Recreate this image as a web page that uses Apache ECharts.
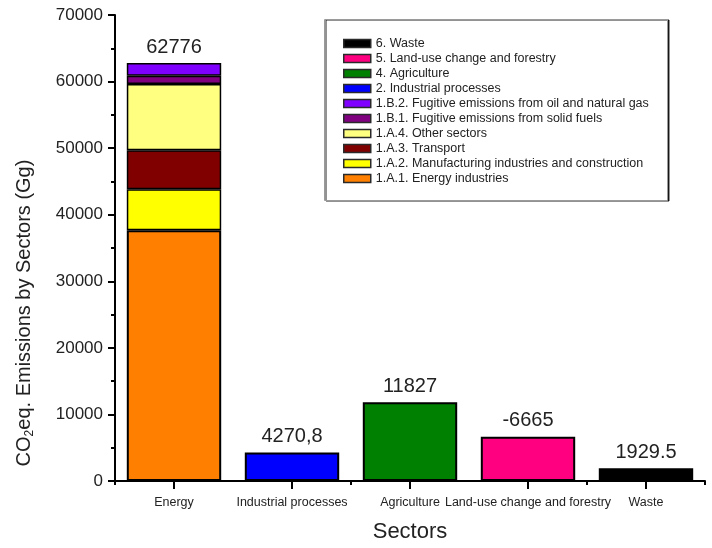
<!DOCTYPE html>
<html>
<head>
<meta charset="utf-8">
<script src="https://cdn.jsdelivr.net/npm/echarts@6/dist/echarts.min.js"></script>
<style>
  html, body { margin: 0; padding: 0; background: #fff; }
  #chart { width: 712px; height: 548px; }
</style>
</head>
<body>
<div id="chart"></div>
<script>
// Sector categories on the x axis
const sectors = ['Energy', 'Industrial processes', 'Agriculture', 'Land-use change and forestry', 'Waste'];

// Energy sector broken down by sub-category (Gg CO2 eq.), bottom to top
const energyParts = [
  '1.A.1. Energy industries',
  '1.A.2. Manufacturing industries and construction',
  '1.A.3. Transport',
  '1.A.4. Other sectors',
  '1.B.1. Fugitive emissions from solid fuels',
  '1.B.2. Fugitive emissions from oil and natural gas'
];
const energyValues = [37680, 6160, 5840, 9970, 1230, 1896];
const energyColors = ['#ff8000', '#ffff00', '#800000', '#ffff80', '#800080', '#8000ff'];

// Remaining sectors (Gg CO2 eq.)
const otherNames = ['2. Industrial processes', '4. Agriculture', '5. Land-use change and forestry', '6. Waste'];
const otherValues = [4270.8, 11827, -6665, 1929.5];
const otherColors = ['#0000ff', '#008000', '#ff0080', '#000000'];
const otherDecimalMarks = [',', '.', '.', '.'];

// Y axis ticks
const yTicks = { min: 0, max: 70000, interval: 10000 };

const FONT = "'Liberation Sans', Arial, Helvetica, sans-serif";

const energyTotal = energyValues.reduce((a, b) => a + b, 0);

const labelStyle = {
  show: true,
  position: 'top',
  distance: 6,
  fontFamily: FONT,
  fontSize: 20,
  color: '#222'
};

const series = [];
energyParts.forEach((name, i) => {
  const top = i === energyParts.length - 1;
  series.push({
    name: name,
    type: 'bar',
    stack: 'total',
    barWidth: '80%',
    xAxisIndex: 0,
    data: sectors.map((s, k) => (k === 0 ? energyValues[i] : '-')),
    itemStyle: { color: energyColors[i], borderColor: '#000', borderWidth: i === 0 ? 2 : 1.5 },
    label: top ? Object.assign({}, labelStyle, { formatter: () => String(energyTotal) }) : { show: false },
    emphasis: { disabled: true }
  });
});
otherNames.forEach((name, j) => {
  const k = j + 1;
  series.push({
    name: name,
    type: 'bar',
    stack: 'total',
    barWidth: '80%',
    xAxisIndex: 0,
    data: sectors.map((s, idx) => (idx === k ? Math.abs(otherValues[j]) : '-')),
    itemStyle: { color: otherColors[j], borderColor: '#000', borderWidth: 2 },
    label: Object.assign({}, labelStyle, {
      formatter: () => String(otherValues[j]).replace('.', otherDecimalMarks[j])
    }),
    emphasis: { disabled: true }
  });
});

const legendOrder = energyParts.concat(otherNames).slice().reverse();

const chart = echarts.init(document.getElementById('chart'), null, { renderer: 'canvas' });
chart.setOption({
  animation: false,
  backgroundColor: '#fff',
  grid: { left: 115, right: 7, top: 15, bottom: 61, containLabel: false },
  xAxis: [
    {
      type: 'category',
      data: sectors,
      axisLine: { show: true, lineStyle: { color: '#000', width: 2 } },
      axisTick: { show: true, alignWithLabel: true, length: 8, lineStyle: { color: '#000', width: 2 } },
      axisLabel: { interval: 0, margin: 15, fontFamily: FONT, fontSize: 12.5, color: '#222', hideOverlap: false },
      name: 'Sectors',
      nameLocation: 'middle',
      nameGap: 40,
      nameTextStyle: { fontFamily: FONT, fontSize: 22, color: '#222' }
    },
    {
      type: 'category',
      data: sectors,
      position: 'bottom',
      axisLine: { show: false },
      axisTick: { show: true, length: 4, lineStyle: { color: '#000', width: 2 } },
      axisLabel: { show: false }
    }
  ],
  yAxis: {
    type: 'value',
    min: yTicks.min,
    max: yTicks.max,
    interval: yTicks.interval,
    axisLine: { show: true, lineStyle: { color: '#000', width: 2 } },
    axisTick: { show: true, length: 7, lineStyle: { color: '#000', width: 2 } },
    minorTick: { show: true, splitNumber: 2, length: 4, lineStyle: { color: '#000', width: 2 } },
    splitLine: { show: false },
    axisLabel: { margin: 12, fontFamily: FONT, fontSize: 17, color: '#222', formatter: (v) => String(v) }
  },
  legend: {
    orient: 'vertical',
    left: 343,
    top: 37,
    data: legendOrder,
    itemWidth: 27,
    itemHeight: 8,
    itemGap: 2,
    padding: 0,
    selectedMode: false,
    icon: 'rect',
    itemStyle: { borderColor: '#2a2a2a', borderWidth: 1.5 },
    textStyle: { fontFamily: FONT, fontSize: 12.5, color: '#222', lineHeight: 13 }
  },
  graphic: [
    {
      type: 'rect',
      z: -1,
      shape: { x: 324.5, y: 19.5, width: 343, height: 181 },
      style: {
        fill: '#fff',
        stroke: '#9a9a9a',
        lineWidth: 1,
        shadowColor: 'rgba(0,0,0,0.85)',
        shadowOffsetX: 1.5,
        shadowOffsetY: 0.5,
        shadowBlur: 0
      }
    },
    {
      type: 'text',
      x: 24,
      y: 313,
      rotation: Math.PI / 2,
      style: {
        text: '{m|CO}{s|2}{m|eq. Emissions by Sectors (Gg)}',
        align: 'center',
        verticalAlign: 'middle',
        fill: '#222',
        rich: {
          m: { fontFamily: FONT, fontSize: 20, lineHeight: 24, fill: '#222', verticalAlign: 'middle' },
          s: { fontFamily: FONT, fontSize: 12, lineHeight: 24, fill: '#222', verticalAlign: 'bottom' }
        }
      }
    }
  ],
  series: series
});
</script>
</body>
</html>
